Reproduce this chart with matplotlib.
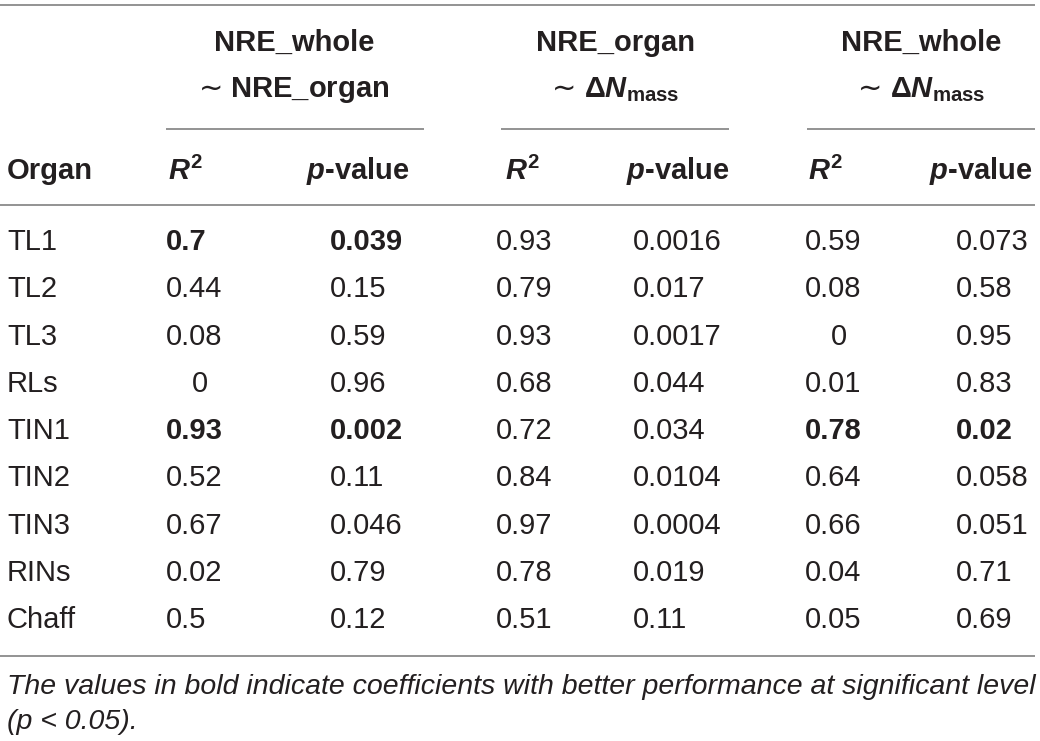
import matplotlib
matplotlib.use("Agg")
import matplotlib.pyplot as plt

# ---------------- data ----------------
organs = ["TL1", "TL2", "TL3", "RLs", "TIN1", "TIN2", "TIN3", "RINs", "Chaff"]
r2_whole_organ = ["0.7", "0.44", "0.08", "0", "0.93", "0.52", "0.67", "0.02", "0.5"]
p_whole_organ = ["0.039", "0.15", "0.59", "0.96", "0.002", "0.11", "0.046", "0.79", "0.12"]
r2_organ_n = ["0.93", "0.79", "0.93", "0.68", "0.72", "0.84", "0.97", "0.78", "0.51"]
p_organ_n = ["0.0016", "0.017", "0.0017", "0.044", "0.034", "0.0104", "0.0004", "0.019", "0.11"]
r2_whole_n = ["0.59", "0.08", "0", "0.01", "0.78", "0.64", "0.66", "0.04", "0.05"]
p_whole_n = ["0.073", "0.58", "0.95", "0.83", "0.02", "0.058", "0.051", "0.71", "0.69"]
# bold (significant) cells: (row, column index 1..6)
bold_cells = [(0, 1), (0, 2), (4, 1), (4, 2), (4, 5), (4, 6)]

group_line1 = ["NRE_whole", "NRE_organ", "NRE_whole"]
group_line2 = ["$\\mathsf{\u223c}$ NRE_organ",
               "$\\mathsf{\u223c}\\ \\Delta N_{\\mathrm{mass}}$",
               "$\\mathsf{\u223c}\\ \\Delta N_{\\mathrm{mass}}$"]
col_headers = ["Organ", r"$R^2$", r"$p$-value", r"$R^2$", r"$p$-value", r"$R^2$", r"$p$-value"]
footnote1 = "The values in bold indicate coefficients with better performance at significant level"
footnote2 = "(p < 0.05)."

# ---------------- style ----------------
plt.rcParams["font.family"] = ["Liberation Sans", "DejaVu Sans"]
plt.rcParams["mathtext.fontset"] = "custom"
plt.rcParams["mathtext.rm"] = "Liberation Sans:bold"
plt.rcParams["mathtext.bf"] = "Liberation Sans:bold"
plt.rcParams["mathtext.it"] = "Liberation Sans:italic:bold"
plt.rcParams["mathtext.sf"] = "DejaVu Sans"

W, H = 1040, 741
fig = plt.figure(figsize=(W / 100, H / 100), dpi=100)
ax = fig.add_axes([0, 0, 1, 1])
ax.set_xlim(0, W)
ax.set_ylim(H, 0)
ax.axis("off")

TXT = "#231f20"
RULE = "#8a8a8a"
FS = 21

# rules
def rule(x0, x1, y):
    ax.plot([x0, x1], [y, y], color=RULE, lw=1.3, solid_capstyle="butt")

rule(0, 1035, 5)
rule(0, 1035, 205)
rule(0, 1035, 656)
rule(166, 424, 129)
rule(501, 729, 129)
rule(807, 1035, 129)

# group headers
group_cx = [294, 615, 921]
for cx, l1, l2 in zip(group_cx, group_line1, group_line2):
    ax.text(cx, 43, l1, ha="center", va="center", fontsize=FS, fontweight="bold", color=TXT)
    ax.text(cx, 90, l2, ha="center", va="center", fontsize=FS, fontweight="bold", color=TXT)

# column headers
hdr_x = [7, 168, 410, 505, 730, 808, 1033]
hdr_ha = ["left", "left", "right", "left", "right", "left", "right"]
for x, h, ha in zip(hdr_x, col_headers, hdr_ha):
    ax.text(x, 171, h, ha=ha, va="center", fontsize=FS, fontweight="bold", color=TXT)

# body
cols = [organs, r2_whole_organ, p_whole_organ, r2_organ_n, p_organ_n, r2_whole_n, p_whole_n]
col_x = [7, 166, 330, 496, 633, 805, 956]
row_y0, row_dy = 242, 47.3
for j, (colvals, x) in enumerate(zip(cols, col_x)):
    for i, v in enumerate(colvals):
        y = row_y0 + i * row_dy
        bold = (i, j) in bold_cells
        if v == "0":
            ax.text(x + 34, y, v, ha="center", va="center", fontsize=FS,
                    fontweight="bold" if bold else "normal", color=TXT)
        else:
            ax.text(x, y, v, ha="left", va="center", fontsize=FS,
                    fontweight="bold" if bold else "normal", color=TXT)

# footnote
ax.text(7, 687, footnote1, ha="left", va="center", fontsize=20.5, style="italic", color=TXT)
ax.text(7, 722, footnote2, ha="left", va="center", fontsize=20.5, style="italic", color=TXT)

fig.savefig("out.png", dpi=100)
